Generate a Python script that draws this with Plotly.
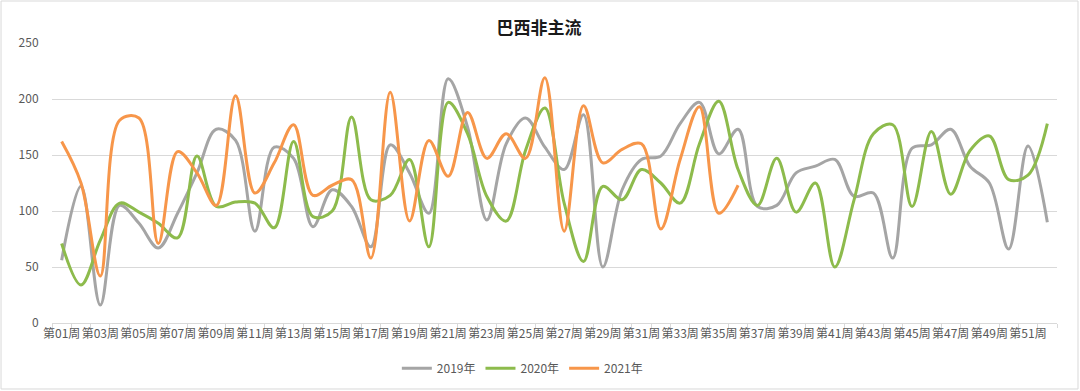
import plotly.graph_objects as go

weeks = [f"第{i:02d}周" for i in range(1, 53)]

y2019 = [56, 122, 16, 105, 89, 67, 98, 134, 173, 163, 82, 157, 147, 86, 119, 104,
         68, 159, 134, 98, 218, 175, 92, 160, 183, 157, 137, 186, 50, 119, 146, 149,
         178, 197, 151, 173, 104, 105, 134, 140, 146, 113, 116, 58, 156, 159, 173, 140,
         125, 66, 158, 90]
y2020 = [71, 34, 74, 107, 99, 89, 76, 149, 104, 108, 107, 85, 162, 95, 100, 184,
         110, 114, 146, 68, 197, 169, 113, 91, 154, 192, 107, 55, 122, 110, 137, 125,
         107, 160, 198, 137, 105, 147, 99, 125, 50, 110, 169, 177, 104, 171, 115, 154,
         167, 128, 132, 178]
y2021 = [162, 125, 42, 181, 183, 71, 153, 134, 105, 203, 116, 143, 177, 114, 123, 128,
         58, 206, 91, 163, 131, 188, 147, 169, 147, 219, 82, 194, 143, 155, 160, 84,
         146, 193, 98, 123]

series = [("2019年", y2019, "#A5A5A5"), ("2020年", y2020, "#8DBB4C"), ("2021年", y2021, "#F7964A")]

fig = go.Figure()
for name, vals, color in series:
    fig.add_trace(go.Scatter(
        x=weeks[:len(vals)], y=vals, name=name, mode="lines",
        line=dict(color=color, width=3, shape="spline", smoothing=1.0),
    ))

ticktext = [w if i % 2 == 0 else "" for i, w in enumerate(weeks)]

fig.update_layout(
    width=1080, height=391,
    margin=dict(l=52, r=23, t=43, b=68, autoexpand=False),
    paper_bgcolor="white", plot_bgcolor="white",
    font=dict(family="Noto Sans CJK SC, Noto Sans, sans-serif", size=12, color="#595959"),
    title=dict(text="<b>巴西非主流</b>", x=0.499, xanchor="center", y=0.928, yanchor="middle",
               font=dict(size=17, color="#1a1a1a")),
    legend=dict(orientation="h", x=0.468, xanchor="center", y=-0.11, yanchor="top",
                font=dict(size=12, color="#595959"), itemwidth=30, tracegroupgap=0),
    xaxis=dict(type="category", categoryorder="array", categoryarray=weeks,
               tickmode="array", tickvals=weeks, ticktext=ticktext, tickangle=0,
               tickson="boundaries", ticks="outside", ticklen=4, tickcolor="#D9D9D9",
               showgrid=False, showline=True, linecolor="#D9D9D9", linewidth=1,
               range=[-0.5, 51.5], tickfont=dict(size=12, color="#595959")),
    yaxis=dict(range=[0, 250], dtick=50, showgrid=True, gridcolor="#D9D9D9", gridwidth=1,
               zeroline=False, showline=False, ticks="outside", ticklen=10,
               tickcolor="rgba(0,0,0,0)", tickfont=dict(size=12, color="#595959")),
    shapes=[dict(type="rect", xref="paper", yref="paper",
                 x0=-0.0507, x1=1.0209, y0=-0.2357, y1=1.15,
                 line=dict(color="#D9D9D9", width=1), fillcolor="rgba(0,0,0,0)", layer="below")],
)

fig.write_html("out.html", config={"displayModeBar": False},
               post_script="document.body.style.margin='0';document.body.style.overflow='hidden';")
